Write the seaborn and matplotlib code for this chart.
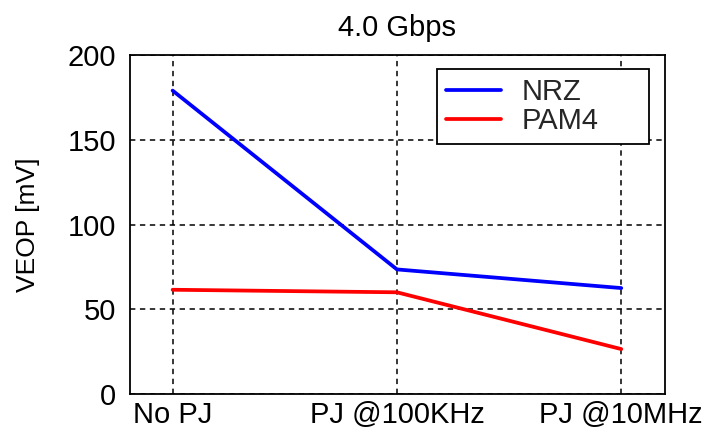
import matplotlib
matplotlib.use("Agg")
import matplotlib.pyplot as plt
import seaborn as sns
import pandas as pd

categories = ["No PJ", "PJ @100KHz", "PJ @10MHz"]
nrz = [179, 73.5, 62.5]
pam4 = [61.5, 60, 26.5]
series_names = ["NRZ", "PAM4"]
title = "4.0 Gbps"
ylabel = "VEOP [mV]"
yticks = [0, 50, 100, 150, 200]

df = pd.DataFrame({
    "x": list(range(len(categories))) * 2,
    "v": nrz + pam4,
    "series": [series_names[0]] * 3 + [series_names[1]] * 3,
})

sns.set_theme(style="white")
plt.rcParams["font.family"] = ["Liberation Sans", "DejaVu Sans"]

fig = plt.figure(figsize=(7.14, 4.29), dpi=100)
ax = fig.add_axes([130 / 714, 1 - 394 / 429, (665 - 130) / 714, (394 - 55) / 429])

sns.lineplot(data=df, x="x", y="v", hue="series", palette={"NRZ": "#0000ff", "PAM4": "#ff0000"},
             linewidth=2.7, ax=ax, legend=True)

ax.set_xlim(-0.19, 2.195)
ax.set_ylim(0, 200)
ax.set_xticks(range(len(categories)))
ax.set_xticklabels(categories)
ax.set_yticks(yticks)
ax.grid(True, color="black", linestyle=(0, (3.5, 3)), linewidth=1.1)
for s in ax.spines.values():
    s.set_visible(True)
    s.set_color("black")
    s.set_linewidth(1.3)
ax.tick_params(direction="in", length=5, width=1, colors="black", labelsize=21)
ax.tick_params(axis="x", pad=5)
ax.tick_params(axis="y", pad=10)
ax.set_xlabel("")
ax.set_ylabel(ylabel, fontsize=19, labelpad=20, color="black")
ax.set_title(title, fontsize=21, pad=14, color="black")

handles, labels = ax.get_legend_handles_labels()
leg = ax.legend(handles, labels, loc="upper left", mode="expand",
                bbox_to_anchor=(437 / 714, 1 - 141 / 429, 212 / 714, 72 / 429),
                bbox_transform=fig.transFigure, borderaxespad=0, fontsize=21,
                frameon=True, fancybox=False, framealpha=1, edgecolor="black",
                handlelength=1.9, handletextpad=0.7, labelspacing=0.05, borderpad=0.3)
leg.get_frame().set_linewidth(1.3)
for h in leg.get_lines():
    h.set_linewidth(2.7)

fig.savefig("out.png", dpi=100)
